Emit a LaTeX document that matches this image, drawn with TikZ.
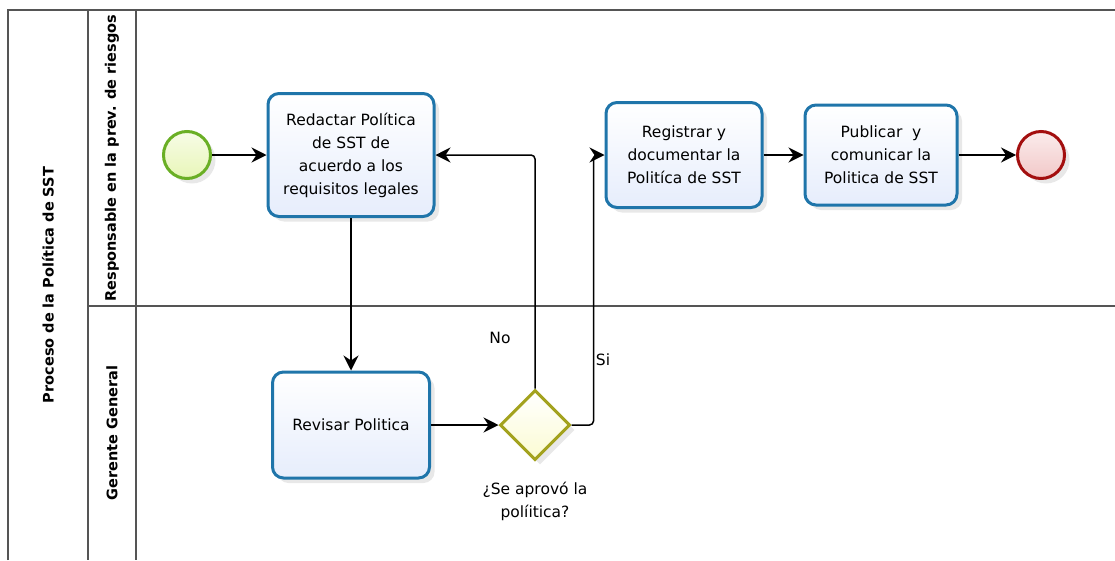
\documentclass[tikz,border=0pt]{standalone}
\usepackage{fontspec}
\setmainfont{DejaVu Sans}
\usetikzlibrary{arrows.meta, shadows, positioning, calc, shapes.geometric}

\definecolor{poolLine}{HTML}{555555}
\definecolor{taskLine}{HTML}{1F75AA}
\definecolor{taskFill}{HTML}{E6EDFC}
\definecolor{startLine}{HTML}{6AAF25}
\definecolor{startFill}{HTML}{E8F6B8}
\definecolor{endLine}{HTML}{A30F0F}
\definecolor{endFill}{HTML}{F2C8C8}
\definecolor{gateLine}{HTML}{A3A21E}
\definecolor{gateFill}{HTML}{FBFBD2}

\tikzset{
    softshadow/.style={drop shadow={opacity=0.18, shadow xshift=5pt, shadow yshift=-5pt}},
    task/.style={draw=taskLine, line width=3pt, rounded corners=11pt,
        top color=white, bottom color=taskFill, inner sep=0pt, align=center,
        font=\fontsize{15.5}{23}\selectfont, softshadow},
    event/.style={circle, line width=3pt, minimum size=47pt, inner sep=0pt, softshadow},
    flow/.style={-{Stealth[length=15pt, width=15pt, inset=5pt]}, line width=1.5pt},
    lanetext/.style={rotate=90, font=\bfseries\fontsize{14.5}{16}\selectfont},
    flowtext/.style={font=\fontsize{15.5}{23}\selectfont, align=center}
}

\begin{document}
\begin{tikzpicture}[x=1pt, y=-1pt]
    \useasboundingbox (0,0) rectangle (1115,560);
    \coordinate (cStartPt) at (187,155);
    \coordinate (cRedPt) at (351,155);
    \coordinate (cRevPt) at (351,425);
    \coordinate (cGatePt) at (535,425);
    \coordinate (cRegPt) at (684,155);
    \coordinate (cPubPt) at (881,155);
    \coordinate (cEndPt) at (1041,155);

    \draw[poolLine, line width=1.5pt] (8,560) -- (8,10) -- (1116,10);
    \draw[poolLine, line width=1.5pt] (88,10) -- (88,560);
    \draw[poolLine, line width=1.5pt] (136,10) -- (136,560);
    \draw[poolLine, line width=1.5pt] (88,306) -- (1116,306);
    \node[lanetext] (lPool) at (48,285) {Proceso de la Política de SST};
    \node[lanetext] (lResp) at (112,158) {Responsable en la prev. de riesgos};
    \node[lanetext] (lGer) at (112,433) {Gerente General};

    \node[event, draw=startLine, top color=startFill!35, bottom color=startFill] (sStart) at (cStartPt) {};
    \node[event, draw=endLine, top color=endFill!35, bottom color=endFill] (sEnd) at (cEndPt) {};
    \node[task, minimum width=166pt, minimum height=123pt] (tRedactar) at (cRedPt)
        {Redactar Política\\de SST de\\acuerdo a los\\requisitos legales};
    \node[task, minimum width=157pt, minimum height=106pt] (tRevisar) at (cRevPt) {Revisar Politica};
    \node[task, minimum width=156pt, minimum height=105pt] (tRegistrar) at (cRegPt)
        {Registrar y\\documentar la\\Politíca de SST};
    \node[task, minimum width=152pt, minimum height=100pt] (tPublicar) at (cPubPt)
        {Publicar\ \ y\\comunicar la\\Politica de SST};
    \node[diamond, draw=gateLine, line width=3pt, top color=white, bottom color=gateFill,
        minimum size=70pt, inner sep=0pt, softshadow] (gAprobo) at (cGatePt) {};
    \node[flowtext, below=17pt of gAprobo] (lAprobo) {¿Se aprovó la\\políitica?};

    \foreach \a/\b in {sStart.east/tRedactar.west, tRedactar.south/tRevisar.north,
        tRevisar.east/gAprobo.west, tRegistrar.east/tPublicar.west, tPublicar.east/sEnd.west}
    {
        \draw[flow] (\a) -- (\b);
    };
    \draw[flow, rounded corners=4pt] (gAprobo.north) |- (tRedactar.east);
    \draw[flow, rounded corners=4pt] (gAprobo.east) -- ++(22,0) |- (tRegistrar.west);
    \node[flowtext] (lNo) at (500,338) {No};
    \node[flowtext] (lSi) at (603,360) {Si};
\end{tikzpicture}
\end{document}
